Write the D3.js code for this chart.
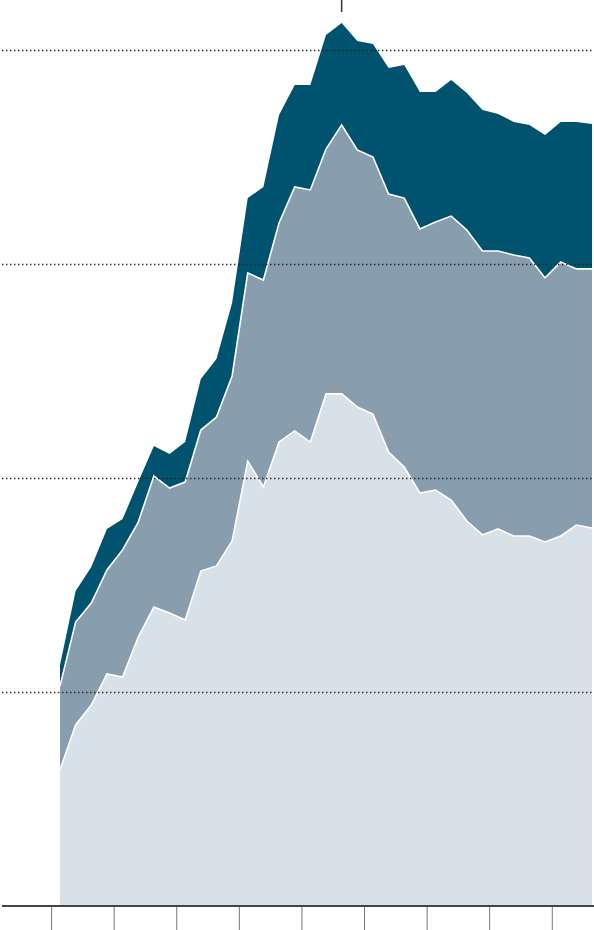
<!DOCTYPE html>
<html>
<head>
<meta charset="utf-8">
<script src="https://cdn.jsdelivr.net/npm/d3@7"></script>
<style>
  html, body { margin: 0; padding: 0; background: #fff; }
  svg { display: block; }
</style>
</head>
<body>
<svg id="chart" width="594" height="930"></svg>
<script>
// three stacked series, quarterly points (bottom -> top)
var lowerSeries = [63.6, 84.6, 93.9, 108.4, 107.0, 125.7, 139.7, 136.9, 133.6, 156.5,
    158.9, 170.6, 207.9, 195.8, 216.8, 222.0, 216.8, 239.3, 239.3, 233.2,
    229.9, 212.1, 205.1, 193.0, 194.4, 189.7, 179.9, 173.4, 176.2, 172.9,
    172.9, 170.1, 172.9, 178.0, 176.6]
var middleSeries = [39.2, 48.1, 47.7, 48.6, 59.4, 53.7, 61.2, 58.4, 64.5, 65.9,
    69.6, 77.1, 87.9, 96.7, 102.4, 114.0, 117.8, 114.4, 125.7, 120.1,
    120.1, 120.6, 125.7, 123.4, 125.2, 132.7, 136.0, 132.7, 129.9, 131.3,
    129.9, 123.4, 128.0, 119.7, 121.1]
var upperSeries = [9.8, 14.5, 16.8, 19.2, 14.4, 18.7, 14.1, 15.9, 18.7, 23.9,
    27.1, 34.1, 35.0, 43.5, 50.4, 47.6, 49.0, 53.3, 47.6, 50.9,
    52.8, 58.9, 62.2, 64.0, 60.8, 63.6, 64.0, 65.9, 64.0, 62.2,
    62.2, 66.8, 65.5, 68.7, 67.7]
var gridValues = [100, 200, 300, 400]
// year boundaries, in quarter-index units
var yearTicks = [-0.57, 3.43, 7.43, 11.43, 15.43, 19.43, 23.43, 27.43, 31.43]

var colors = ['#d8e0e8', '#889dae', '#00536e']
var keys = ['lower', 'middle', 'upper']

var rows = lowerSeries.map(function (v, i) {
    return { i: i, lower: v, middle: middleSeries[i], upper: upperSeries[i] }
})

var svg = d3.select('#chart')
var width = +svg.attr('width')
var height = +svg.attr('height')
var baseY = 906

var x = d3.scaleLinear().domain([0, rows.length - 1]).range([60, 592])
var y = d3.scaleLinear().domain([0, 400]).range([baseY, 50])

var stack = d3.stack().keys(keys)
var layers = stack(rows)

var area = d3.area()
    .x(function (d) { return x(d.data.i) })
    .y0(function (d) { return y(d[0]) })
    .y1(function (d) { return y(d[1]) })

var topLine = d3.line()
    .x(function (d) { return x(d.data.i) })
    .y(function (d) { return y(d[1]) })

svg.selectAll('path.area')
    .data(layers)
    .enter()
    .append('path')
    .attr('class', 'area')
    .attr('fill', function (d, i) { return colors[i] })
    .attr('d', area)

// white edges between the layers
svg.selectAll('path.edge')
    .data(layers.slice(0, 2))
    .enter()
    .append('path')
    .attr('class', 'edge')
    .attr('fill', 'none')
    .attr('stroke', '#fff')
    .attr('stroke-width', 1.6)
    .attr('stroke-linejoin', 'miter')
    .attr('d', topLine)

// dotted gridlines
svg.selectAll('line.grid')
    .data(gridValues)
    .enter()
    .append('line')
    .attr('class', 'grid')
    .attr('x1', 2)
    .attr('x2', width)
    .attr('y1', function (d) { return y(d) + 0.5 })
    .attr('y2', function (d) { return y(d) + 0.5 })
    .style('stroke', '#222')
    .style('stroke-width', 1.4)
    .style('stroke-dasharray', '1.4,2.6')

// x axis with ticks hanging below the baseline
var xAxis = d3.axisBottom(x)
    .tickValues(yearTicks)
    .tickSize(height - baseY)
    .tickFormat('')
var gx = svg.append('g')
    .attr('transform', 'translate(0,' + baseY + ')')
    .call(xAxis)
gx.select('.domain').remove()
gx.selectAll('.tick line').style('stroke', '#777').style('stroke-width', 1)

svg.append('line')
    .attr('x1', 2)
    .attr('x2', width)
    .attr('y1', baseY)
    .attr('y2', baseY)
    .style('stroke', '#444')
    .style('stroke-width', 2)

// marker above the peak
var totals = rows.map(function (r) { return r.lower + r.middle + r.upper })
var peak = d3.maxIndex(totals)
svg.append('line')
    .attr('x1', x(peak))
    .attr('x2', x(peak))
    .attr('y1', 0)
    .attr('y2', 12)
    .style('stroke', '#333')
    .style('stroke-width', 1.5)
</script>
</body>
</html>
